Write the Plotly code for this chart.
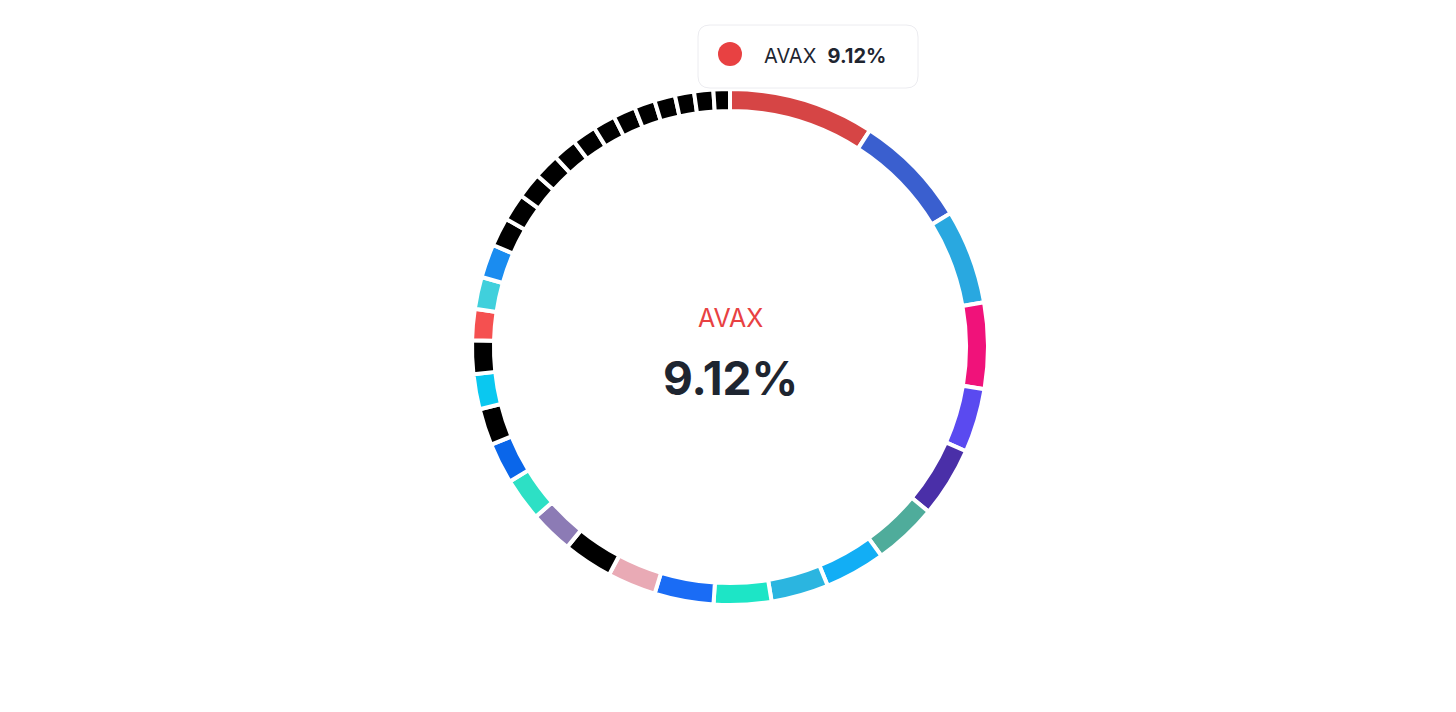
import plotly.graph_objects as go

W, H = 1456, 712

labels = ["AVAX", "T02", "T03", "T04", "T05", "T06", "T07", "T08", "T09", "T10",
          "T11", "T12", "T13", "T14", "T15", "T16", "T17", "T18", "T19", "T20",
          "T21", "T22", "T23", "T24", "T25", "T26", "T27", "T28", "T29", "T30",
          "T31", "T32", "T33", "T34", "T35"]
values = [9.12, 7.2, 5.9, 5.4, 4.0, 4.4, 4.0, 3.8, 3.6, 3.6,
          3.7, 3.05, 3.1, 2.7, 2.7, 2.55, 2.3, 2.2, 2.1, 1.95,
          2.0, 2.1, 1.8, 1.7, 1.6, 1.6, 1.5, 1.5, 1.4, 1.4,
          1.3, 1.3, 1.2, 1.2, 1.03]
colors = ["#d64545", "#3a5fcf", "#29a8e0", "#f0127a", "#5a4af0", "#4a2fa8",
          "#4fac9b", "#12aef5", "#2bb5e0", "#1de5c6", "#1a6cf5", "#e9aab5",
          "#000000", "#8c7bb5", "#2de0c5", "#0a66ea", "#000000", "#0ac8f0",
          "#000000", "#f55050", "#40d0dc", "#1a8cf0"] + ["#000000"] * 13

OFF = 8  # page body margin
def px(x): return (x - OFF) / W
def py(y): return 1 - (y - OFF) / H

cx, cy, r = 730, 347, 258

fig = go.Figure(go.Pie(
    labels=labels, values=values, sort=False, direction="clockwise",
    rotation=0, hole=0.915, textinfo="none", hoverinfo="none",
    marker=dict(colors=colors, line=dict(color="white", width=4)),
    domain=dict(x=[px(cx - r), px(cx + r)], y=[py(cy + r), py(cy - r)]),
    showlegend=False,
))

# tooltip box
x0, x1, y0, y1, rr = 698, 918, 25, 88, 12
path = (f"M {px(x0+rr)},{py(y0)} L {px(x1-rr)},{py(y0)} Q {px(x1)},{py(y0)} {px(x1)},{py(y0+rr)} "
        f"L {px(x1)},{py(y1-rr)} Q {px(x1)},{py(y1)} {px(x1-rr)},{py(y1)} "
        f"L {px(x0+rr)},{py(y1)} Q {px(x0)},{py(y1)} {px(x0)},{py(y1-rr)} "
        f"L {px(x0)},{py(y0+rr)} Q {px(x0)},{py(y0)} {px(x0+rr)},{py(y0)} Z")
fig.add_shape(type="path", path=path, xref="paper", yref="paper",
              fillcolor="white", line=dict(color="#ececf0", width=1))
fig.add_shape(type="circle", xref="paper", yref="paper",
              x0=px(718), x1=px(742), y0=py(66), y1=py(42),
              fillcolor="#e84142", line=dict(width=0))

fig.add_annotation(x=px(762), y=py(56), xref="paper", yref="paper",
                   xanchor="left", yanchor="middle",
                   text="AVAX  <b>9.12%</b>", showarrow=False,
                   font=dict(family="Inter", size=20, color="#1e2530"))
fig.add_annotation(x=px(cx), y=py(318), xref="paper", yref="paper", yanchor="middle",
                   text="AVAX", showarrow=False,
                   font=dict(family="Inter", size=25, color="#e84142"))
fig.add_annotation(x=px(cx), y=py(378), xref="paper", yref="paper", yanchor="middle",
                   text="<b>9.12%</b>", showarrow=False,
                   font=dict(family="Inter", size=46, color="#1e2530"))

fig.update_layout(width=W, height=H, margin=dict(l=0, r=0, t=0, b=0),
                  paper_bgcolor="white", plot_bgcolor="white")
fig.write_html("out.html")
